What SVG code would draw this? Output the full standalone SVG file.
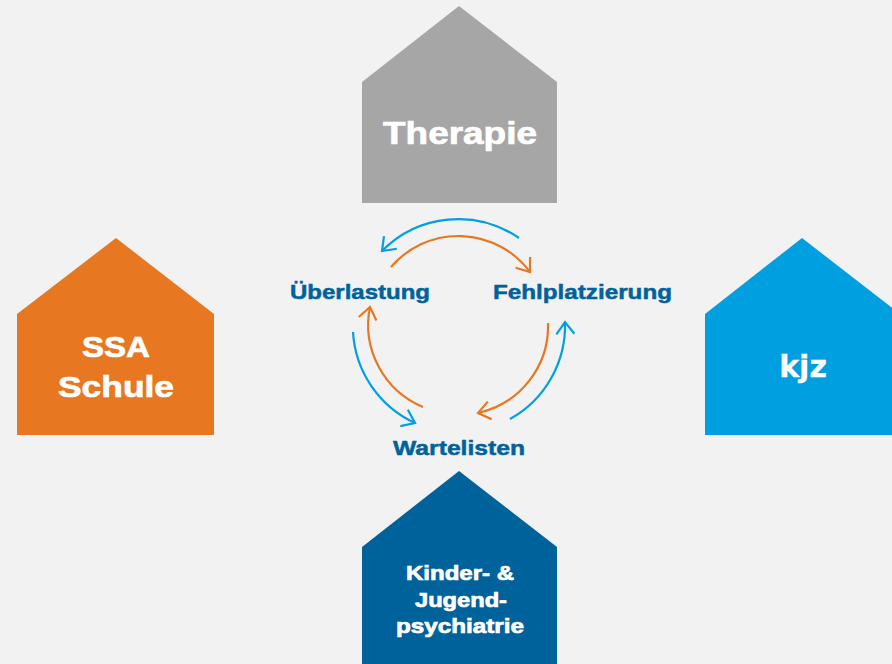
<svg xmlns="http://www.w3.org/2000/svg" width="892" height="664" viewBox="0 0 892 664">
<style>
.lbl{font-family:"Liberation Sans",Arial,sans-serif;font-weight:bold;fill:#ffffff;stroke:#ffffff;stroke-width:0.7;text-anchor:middle}
.cyc{font-family:"Liberation Sans",Arial,sans-serif;font-weight:bold;fill:#00629b;stroke:#00629b;stroke-width:0.5;font-size:21px}
.b{fill:none;stroke:#009fe3;stroke-width:2.2}
.o{fill:none;stroke:#e87722;stroke-width:2.2}
</style>
<defs>
<marker id="mb" markerUnits="userSpaceOnUse" markerWidth="30" markerHeight="30" refX="15" refY="15" orient="auto" viewBox="0 0 30 30" overflow="visible">
<path d="M3 6 L15 15 L3 24" fill="none" stroke="#009fe3" stroke-width="2.2"/>
</marker>
<marker id="mo" markerUnits="userSpaceOnUse" markerWidth="30" markerHeight="30" refX="15" refY="15" orient="auto" viewBox="0 0 30 30" overflow="visible">
<path d="M3 6 L15 15 L3 24" fill="none" stroke="#e87722" stroke-width="2.2"/>
</marker>
</defs>
<rect width="892" height="664" fill="#f2f2f2"/>
<g id="therapie">
<polygon points="459,6 557,82 362,82" fill="#a6a6a6"/>
<rect x="362" y="82" width="195" height="121" fill="#a6a6a6"/>
<text class="lbl" x="460" y="144" font-size="31" textLength="154" lengthAdjust="spacingAndGlyphs">Therapie</text>
</g>
<g id="ssa">
<polygon points="116,238 214,314 17,314" fill="#e87722"/>
<rect x="17" y="314" width="197" height="121" fill="#e87722"/>
<text class="lbl" x="116" y="357" font-size="30" textLength="68" lengthAdjust="spacingAndGlyphs">SSA</text>
<text class="lbl" x="116" y="397" font-size="30" textLength="116" lengthAdjust="spacingAndGlyphs">Schule</text>
</g>
<g id="kjz">
<polygon points="802,238 900,314 705,314" fill="#009fdf"/>
<rect x="705" y="314" width="195" height="121" fill="#009fdf"/>
<text class="lbl" x="803" y="377" font-size="30" style="font-family:'DejaVu Sans',Verdana,sans-serif;stroke-width:0.3">kjz</text>
</g>
<g id="kinder">
<polygon points="459,471 557,547 362,547" fill="#00629b"/>
<rect x="362" y="547" width="195" height="117" fill="#00629b"/>
<text class="lbl" x="460" y="580" font-size="20.5" textLength="108" lengthAdjust="spacingAndGlyphs">Kinder- &amp;</text>
<text class="lbl" x="461" y="607" font-size="20.5" textLength="92" lengthAdjust="spacingAndGlyphs">Jugend-</text>
<text class="lbl" x="460" y="633" font-size="20.5" textLength="128" lengthAdjust="spacingAndGlyphs">psychiatrie</text>
</g>
<g id="cycle-labels">
<text class="cyc" x="290" y="299" textLength="140" lengthAdjust="spacingAndGlyphs">Überlastung</text>
<text class="cyc" x="493" y="299" textLength="179" lengthAdjust="spacingAndGlyphs">Fehlplatzierung</text>
<text class="cyc" x="393" y="455" textLength="132" lengthAdjust="spacingAndGlyphs">Wartelisten</text>
</g>
<g id="connectors">
<path class="b" d="M519 238 A107 107 0 0 0 382 251" marker-end="url(#mb)"/>
<path class="o" d="M391 267 A89 89 0 0 1 530 272" marker-end="url(#mo)"/>
<path class="b" d="M353 332 A107 107 0 0 0 415 423" marker-end="url(#mb)"/>
<path class="o" d="M423 407 A89 89 0 0 1 370 307" marker-end="url(#mo)"/>
<path class="o" d="M548 323 A89 89 0 0 1 478 413" marker-end="url(#mo)"/>
<path class="b" d="M510 419 A107 107 0 0 0 565 322" marker-end="url(#mb)"/>
</g>
</svg>
